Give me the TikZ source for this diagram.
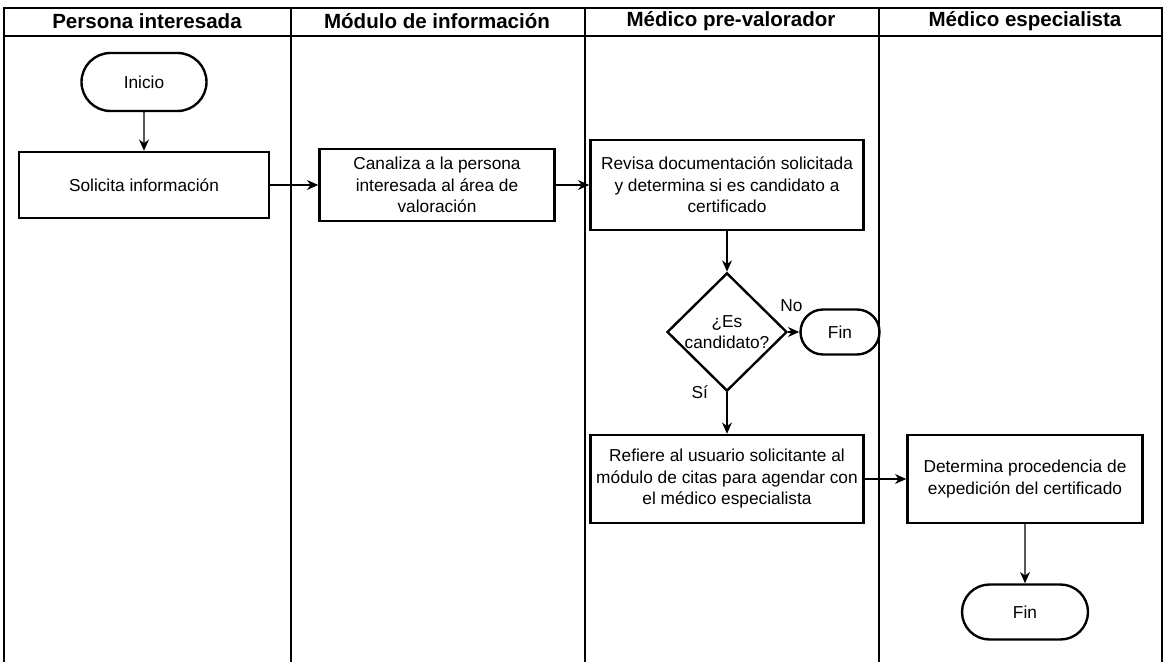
\documentclass[tikz,border=0pt]{standalone}
\usepackage{fontspec}
\setmainfont{Liberation Sans}
\usetikzlibrary{positioning, arrows.meta, shapes.geometric, shapes.misc}
\newcommand{\px}{0.025cm}
\newcommand{\bodyfont}{\fontsize{12.3}{15.3}\selectfont}
\tikzset{
  lane/.style={line width=0.8pt},
  lanetitle/.style={font=\fontsize{14.6}{16}\selectfont\bfseries},
  process/.style={draw, line width=1.7pt, align=center, inner sep=0pt, font=\bodyfont},
  terminal/.style={draw, rounded rectangle, line width=1.7pt, inner sep=0pt, font=\bodyfont},
  decision/.style={draw, diamond, aspect=1, line width=1.7pt, inner sep=0pt, align=center, font=\bodyfont},
  flow/.style={-{Stealth[length=8pt, width=7pt, inset=2.5pt]}, line width=1pt},
  flowlabel/.style={font=\bodyfont, inner sep=0pt}
}
\begin{document}
\begin{tikzpicture}[x=\px, y=-\px]
      \useasboundingbox (0,0) rectangle (1164,662);

      \draw[lane] (4,662) -- (4,8) -- (1162,8) -- (1162,662);
      \draw[lane] (4,36) -- (1162,36);
      \foreach \x in {291,585,879} \draw[lane] (\x,8) -- (\x,662);

      \node[lanetitle] (L1) at (147,21) {Persona interesada};
      \node[lanetitle] (L2) at (437,21) {Módulo de información};
      \node[lanetitle] (L3) at (731,21) {Médico pre-valorador};
      \node[lanetitle] (L4) at (1025,21) {Médico especialista};

      \node[terminal, minimum width=125*\px, minimum height=58*\px] (PI1) at (144,82) {Inicio};
      \node[process, minimum width=250*\px, minimum height=66*\px] (PI2) at (144,185) {Solicita información};

      \node[process, minimum width=235*\px, minimum height=72*\px] (MI1) at (437,185) {Canaliza a la persona\\interesada al área de\\valoración};

      \node[process, minimum width=273*\px, minimum height=90*\px] (MP1) at (727,185) {Revisa documentación solicitada\\y determina si es candidato a\\certificado};
      \node[decision, minimum width=120*\px, minimum height=116*\px] (MP2) at (727,332) {¿Es\\candidato?};
      \node[terminal, minimum width=79*\px, minimum height=45*\px] (MP3) at (840,332) {Fin};
      \node[process, minimum width=273*\px, minimum height=88*\px] (MP4) at (727,479) {Refiere al usuario solicitante al\\módulo de citas para agendar con\\el médico especialista};

      \node[process, minimum width=235*\px, minimum height=88*\px] (ME1) at (1025,479) {Determina procedencia de\\expedición del certificado};
      \node[terminal, minimum width=126*\px, minimum height=55*\px] (ME2) at (1025,612) {Fin};

      \draw[flow] (PI1) -- (PI2);
      \draw[flow] (PI2) -- (MI1);
      \draw[flow] (MI1) -- (MP1);
      \draw[flow] (MP1) -- (MP2);
      \draw[flow] (MP2) -- node[flowlabel, pos=0, above right=14pt and -6pt] {No} (MP3);
      \draw[flow] (MP2) -- node[flowlabel, pos=0, left=13pt] {Sí} (MP4);
      \draw[flow] (MP4) -- (ME1);
      \draw[flow] (ME1) -- (ME2);
    \end{tikzpicture}
\end{document}
